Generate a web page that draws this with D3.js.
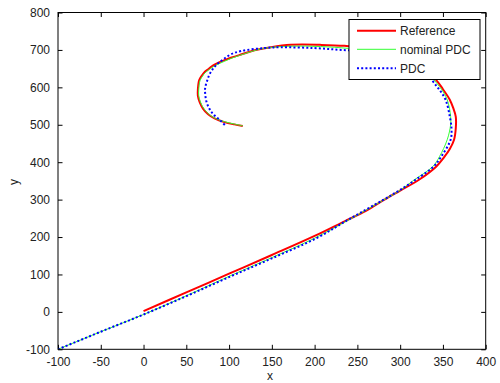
<!DOCTYPE html>
<html><head><meta charset="utf-8">
<script src="https://cdn.jsdelivr.net/npm/d3@7"></script>
<style>body{margin:0;background:#fff}svg{display:block}text{font-family:Arial,"Liberation Sans",sans-serif;fill:#222}</style>
</head><body><svg id="c" width="500" height="383"></svg>
<script>
const xTicks = [-100,-50,0,50,100,150,200,250,300,350,400];
const yTicks = [-100,0,100,200,300,400,500,600,700,800];
const seriesNames = ["Reference","nominal PDC","PDC"];
const refX = [0,50,100,150,200,235,260,281,300,322,342,351,358,363,365,365,362,358,350,342,325,300,270,235,207,172,149,125,112,102,94,87,81,76,71,68,65,63.5,63.5,65.5,69.5,75.5,83,94.5,106,116];
const refY = [2,52,102,152,203,242,270,299,324,353,388,412,435,460,490,522,545,567,595,620,655,682,702,711,713.5,713.5,707,696,686,679,672,665,658,649,640,631,619,593,578,561,543,528,517,507,501,497];
const nomX = [-100,-50,0,50,100,150,200,240,280,300,316,338,346,355,359,359,355,346,330,305,275,240,207,172,140,125,112,102,95,88,82,77,72,69,66,64.5,64.5,66.5,70.5,76.5,84,95,106,116];
const nomY = [-100,-53,-7,43,95,145,197,246,298,325,352,388,415,460,500,522,567,602,640,672,693,704,709,710,704,695,685,677,670,663,656,648,639,630,618,593,578,561,543,528,517,508,502,497];
const pdcX = [-100,-50,0,50,100,150,203,242,280,300,318,339,348,359,360,358,353,343,328,300,265,231,199,160,141,114,102,94,87,82,77,74,72,72,73.5,77,82,90,96];
const pdcY = [-100,-53,-7,42,93,143,198,250,299,326,353,388,415,460,490,522,567,602,640,673,695,700,705,707,705,697,688,676,664,652,634,615,598,585,562,543,527,511,497];

const L=58,T=12.5,R=485.7,B=349.3;
const x=d3.scaleLinear().domain([-100,400]).range([L,R]);
const y=d3.scaleLinear().domain([-100,800]).range([B,T]);
const svg=d3.select("#c");
svg.append("defs").append("clipPath").attr("id","clip").append("rect").attr("x",L).attr("y",T).attr("width",R-L).attr("height",B-T);

const fs="12px";
const fmt=d=>String(d);
const gx=svg.append("g").attr("transform",`translate(0,${B})`).call(d3.axisBottom(x).tickValues(xTicks).tickFormat(fmt).tickSizeInner(-4.5).tickSizeOuter(0).tickPadding(8));
const gx2=svg.append("g").attr("transform",`translate(0,${T})`).call(d3.axisTop(x).tickValues(xTicks).tickSizeInner(-4.5).tickSizeOuter(0).tickFormat(""));
const gy=svg.append("g").attr("transform",`translate(${L},0)`).call(d3.axisLeft(y).tickValues(yTicks).tickFormat(fmt).tickSizeInner(-4.5).tickSizeOuter(0).tickPadding(8));
const gy2=svg.append("g").attr("transform",`translate(${R},0)`).call(d3.axisRight(y).tickValues(yTicks).tickSizeInner(-4.5).tickSizeOuter(0).tickFormat(""));
[gx,gx2,gy,gy2].forEach(g=>{g.select(".domain").remove();g.selectAll("line").attr("stroke","#000");g.selectAll("text").attr("font-size",fs).attr("fill","#222").style("font-family","Arial, 'Liberation Sans', sans-serif");});

const line=d3.line().x(d=>x(d[0])).y(d=>y(d[1])).curve(d3.curveCatmullRom.alpha(0.5));
const zip=(a,b)=>a.map((v,i)=>[v,b[i]]);
const plot=svg.append("g").attr("clip-path","url(#clip)");
plot.append("path").datum(zip(refX,refY)).attr("d",line).attr("fill","none").attr("stroke","#ff0000").attr("stroke-width",2);
plot.append("path").datum(zip(nomX,nomY)).attr("d",line).attr("fill","none").attr("stroke","#33ff33").attr("stroke-width",1);
plot.append("path").datum(zip(pdcX,pdcY)).attr("d",line).attr("fill","none").attr("stroke","#0000ff").attr("stroke-width",2).attr("stroke-dasharray","2,2.2");

svg.append("rect").attr("x",L).attr("y",T).attr("width",R-L).attr("height",B-T).attr("fill","none").attr("stroke","#000").attr("stroke-width",1);

svg.append("text").attr("x",270).attr("y",380).attr("text-anchor","middle").attr("font-size",fs).text("x");
svg.append("text").attr("transform","translate(18,182) rotate(-90)").attr("text-anchor","middle").attr("font-size",fs).text("y");

const lg=svg.append("g");
lg.append("rect").attr("x",349).attr("y",19.5).attr("width",131).attr("height",60).attr("fill","#fff").attr("stroke","#000").attr("stroke-width",1);
const styles=[{c:"#ff0000",w:2,d:null},{c:"#33ff33",w:1,d:null},{c:"#0000ff",w:2,d:"2,2.2"}];
const ly=[30.7,49.3,68.3];
seriesNames.forEach((n,i)=>{
  lg.append("line").attr("x1",357).attr("x2",396).attr("y1",ly[i]).attr("y2",ly[i]).attr("stroke",styles[i].c).attr("stroke-width",styles[i].w).attr("stroke-dasharray",styles[i].d);
  lg.append("text").attr("x",400).attr("y",ly[i]+4.3).attr("font-size",fs).text(n);
});
</script></body></html>
